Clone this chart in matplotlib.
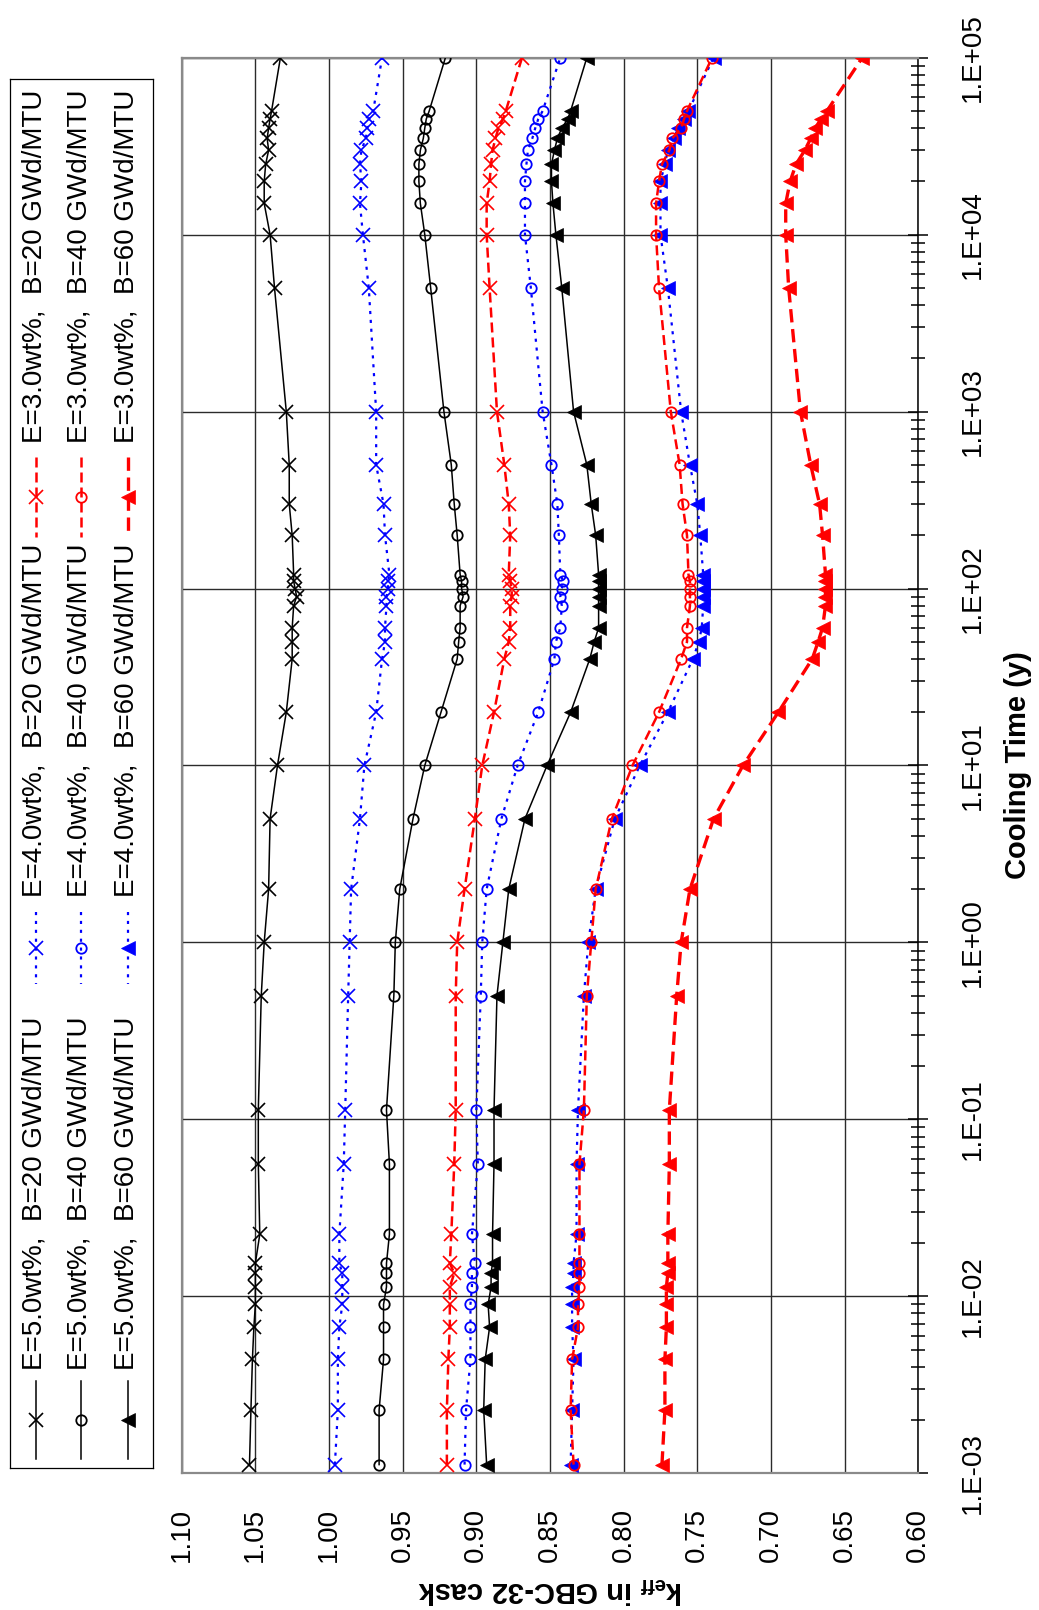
import math
import matplotlib
matplotlib.use("Agg")
import matplotlib.pyplot as plt
from matplotlib.ticker import FixedLocator, FuncFormatter, LogLocator, NullFormatter

plt.rcParams['font.family'] = ['Liberation Sans', 'DejaVu Sans']
plt.rcParams['mathtext.fontset'] = 'custom'
plt.rcParams['mathtext.rm'] = 'Liberation Sans'
plt.rcParams['mathtext.bf'] = 'Liberation Sans:bold'

# ---------------------------------------------------------------- data
cooling_time = [0.00112, 0.00228, 0.0044, 0.0067, 0.009, 0.0113, 0.0135, 0.0154,
                0.0224, 0.056, 0.113, 0.5, 1, 2, 5, 10, 20, 40, 50, 60, 80, 90,
                100, 110, 120, 200, 300, 500, 1000, 5000, 10000, 15000, 20000,
                25000, 30000, 35000, 40000, 45000, 50000, 100000]

keff_e50_b20 = [1.054, 1.053, 1.052, 1.051, 1.050, 1.050, 1.050, 1.050, 1.047, 1.048,
                1.048, 1.046, 1.044, 1.041, 1.040, 1.035, 1.029, 1.025, 1.025, 1.025,
                1.024, 1.022, 1.023, 1.024, 1.024, 1.025, 1.027, 1.027, 1.029, 1.037,
                1.040, 1.044, 1.044, 1.043, 1.041, 1.042, 1.041, 1.040, 1.039, 1.033]
keff_e50_b40 = [0.966, 0.966, 0.963, 0.963, 0.963, 0.961, 0.961, 0.961, 0.959, 0.959,
                0.961, 0.956, 0.955, 0.952, 0.943, 0.935, 0.924, 0.913, 0.912, 0.911,
                0.911, 0.909, 0.910, 0.910, 0.911, 0.913, 0.915, 0.917, 0.922, 0.931,
                0.935, 0.938, 0.939, 0.939, 0.938, 0.936, 0.935, 0.934, 0.932, 0.921]
keff_e50_b60 = [0.893, 0.895, 0.894, 0.891, 0.892, 0.890, 0.890, 0.889, 0.889, 0.888,
                0.888, 0.886, 0.882, 0.878, 0.867, 0.852, 0.836, 0.823, 0.820, 0.817,
                0.817, 0.817, 0.817, 0.817, 0.817, 0.819, 0.822, 0.825, 0.834, 0.842,
                0.846, 0.848, 0.849, 0.849, 0.847, 0.845, 0.842, 0.838, 0.836, 0.825]
keff_e40_b20 = [0.996, 0.994, 0.994, 0.993, 0.991, 0.991, 0.991, 0.993, 0.993, 0.990,
                0.989, 0.987, 0.986, 0.985, 0.979, 0.976, 0.968, 0.964, 0.962, 0.962,
                0.961, 0.961, 0.960, 0.960, 0.959, 0.962, 0.963, 0.968, 0.968, 0.973,
                0.977, 0.979, 0.978, 0.979, 0.978, 0.975, 0.974, 0.973, 0.970, 0.964]
keff_e40_b40 = [0.908, 0.907, 0.904, 0.904, 0.904, 0.903, 0.903, 0.901, 0.903, 0.899,
                0.900, 0.897, 0.896, 0.893, 0.883, 0.872, 0.858, 0.847, 0.846, 0.843,
                0.842, 0.843, 0.842, 0.841, 0.843, 0.844, 0.845, 0.849, 0.855, 0.863,
                0.867, 0.867, 0.867, 0.866, 0.865, 0.862, 0.860, 0.858, 0.855, 0.843]
keff_e40_b60 = [0.836, 0.835, 0.834, 0.835, 0.835, 0.835, 0.834, 0.834, 0.832, 0.832,
                0.831, 0.827, 0.824, 0.819, 0.806, 0.789, 0.770, 0.753, 0.749, 0.747,
                0.746, 0.746, 0.746, 0.746, 0.746, 0.748, 0.750, 0.755, 0.761, 0.770,
                0.775, 0.775, 0.775, 0.772, 0.770, 0.766, 0.763, 0.759, 0.756, 0.739]
keff_e30_b20 = [0.920, 0.920, 0.919, 0.918, 0.918, 0.918, 0.915, 0.918, 0.917, 0.915,
                0.914, 0.914, 0.913, 0.908, 0.901, 0.896, 0.888, 0.881, 0.878, 0.877,
                0.877, 0.876, 0.876, 0.877, 0.878, 0.877, 0.878, 0.881, 0.886, 0.891,
                0.893, 0.893, 0.891, 0.890, 0.889, 0.887, 0.885, 0.882, 0.880, 0.869]
keff_e30_b40 = [0.834, 0.836, 0.835, 0.831, 0.831, 0.830, 0.830, 0.830, 0.830, 0.830,
                0.827, 0.825, 0.822, 0.819, 0.808, 0.794, 0.776, 0.761, 0.757, 0.757,
                0.755, 0.755, 0.755, 0.755, 0.756, 0.757, 0.760, 0.762, 0.768, 0.776,
                0.778, 0.778, 0.776, 0.774, 0.769, 0.767, 0.761, 0.759, 0.757, 0.740]
keff_e30_b60 = [0.774, 0.772, 0.772, 0.771, 0.771, 0.771, 0.770, 0.770, 0.770, 0.769,
                0.769, 0.764, 0.761, 0.755, 0.739, 0.719, 0.695, 0.672, 0.668, 0.665,
                0.663, 0.663, 0.663, 0.663, 0.663, 0.665, 0.667, 0.673, 0.680, 0.688,
                0.690, 0.690, 0.687, 0.683, 0.677, 0.673, 0.670, 0.666, 0.662, 0.638]

series_labels = ["E=5.0wt%,  B=20 GWd/MTU", "E=5.0wt%,  B=40 GWd/MTU", "E=5.0wt%,  B=60 GWd/MTU",
                 "E=4.0wt%,  B=20 GWd/MTU", "E=4.0wt%,  B=40 GWd/MTU", "E=4.0wt%,  B=60 GWd/MTU",
                 "E=3.0wt%,  B=20 GWd/MTU", "E=3.0wt%,  B=40 GWd/MTU", "E=3.0wt%,  B=60 GWd/MTU"]
series_values = [keff_e50_b20, keff_e50_b40, keff_e50_b60,
                 keff_e40_b20, keff_e40_b40, keff_e40_b60,
                 keff_e30_b20, keff_e30_b40, keff_e30_b60]

keff_ticks = [1.10, 1.05, 1.00, 0.95, 0.90, 0.85, 0.80, 0.75, 0.70, 0.65, 0.60]
time_decades = [1e-3, 1e-2, 1e-1, 1e0, 1e1, 1e2, 1e3, 1e4, 1e5]

# ---------------------------------------------------------------- styles
BLUE = '#0000FF'
RED = '#FF0000'
line_styles = {
    5.0: dict(color='black', linestyle='-', linewidth=1.1),
    4.0: dict(color=BLUE, linestyle=(0, (1.4, 2.6)), linewidth=1.6),
    3.0: dict(color=RED, linestyle=(0, (4.0, 2.0)), linewidth=1.8),
}
marker_styles = {
    20: dict(marker='x', markersize=10, markeredgewidth=1.2),
    40: dict(marker='o', markersize=7.5, markeredgewidth=1.3, markerfacecolor='none'),
    60: dict(marker='<', markersize=9.5, markeredgewidth=0.5),
}
series_keys = [(5.0, 20), (5.0, 40), (5.0, 60), (4.0, 20), (4.0, 40), (4.0, 60),
               (3.0, 20), (3.0, 40), (3.0, 60)]


def style_for(enr, burn):
    st = dict(line_styles[enr])
    st.update(marker_styles[burn])
    st['markeredgecolor'] = st['color']
    if burn == 60:
        st['markerfacecolor'] = st['color']
    if enr == 3.0 and burn == 60:
        st['linewidth'] = 2.4
    return st


def decade_label(v, pos):
    return "1.E{:+03d}".format(int(round(math.log10(v))))


# ---------------------------------------------------------------- figure
W, H = 1039, 1610
fig = plt.figure(figsize=(W / 100, H / 100), dpi=100)
ax = fig.add_axes([181.7 / W, 1 - 1473.3 / H, 736.6 / W, 1415.6 / H])

for (enr, burn), vals in zip(series_keys, series_values):
    ax.plot(vals, cooling_time, **style_for(enr, burn), zorder=3)

ax.set_yscale('log')
ax.set_ylim(1e-3, 1e5)
ax.set_xlim(1.10, 0.60)

# keff axis (bottom)
ax.xaxis.set_major_locator(FixedLocator(keff_ticks))
ax.xaxis.set_major_formatter(FuncFormatter(lambda v, p: f"{v:.2f}"))
ax.tick_params(axis='x', which='major', length=0, pad=25, labelsize=20,
               labelrotation=90)

# cooling time axis (right)
ax.yaxis.tick_right()
ax.yaxis.set_major_locator(FixedLocator(time_decades))
ax.yaxis.set_minor_locator(LogLocator(base=10, subs=range(2, 10), numticks=20))
ax.yaxis.set_minor_formatter(NullFormatter())
ax.yaxis.set_major_formatter(FuncFormatter(decade_label))
ax.tick_params(axis='y', which='major', direction='inout', length=14, width=1.1,
               pad=23, labelsize=20, labelrotation=90, colors='black')
ax.tick_params(axis='y', which='minor', direction='inout', length=10, width=1.1,
               colors='black')
for lbl in ax.get_yticklabels():
    lbl.set_verticalalignment('center')

ax.grid(True, which='major', axis='both', color='#2b2b2b', linewidth=1.0, zorder=1)
ax.set_axisbelow(True)

for side in ('left', 'top', 'bottom'):
    ax.spines[side].set_color('#8a8a8a')
    ax.spines[side].set_linewidth(1.6)
ax.spines['right'].set_color('black')
ax.spines['right'].set_linewidth(1.1)

ax.set_xlabel(r"$\mathbf{k_{eff}}$ in GBC-32 cask", fontsize=21, fontweight='bold',
              rotation=180, ha='center', va='center')
ax.xaxis.set_label_coords(0.5, -0.0825)
ax.yaxis.set_label_position('right')
ax.set_ylabel("Cooling Time (y)", fontsize=21, fontweight='bold', rotation=90,
              ha='center', va='center')
ax.yaxis.set_label_coords(1.1354, 0.5)

# ---------------------------------------------------------------- legend box
lx0, ly0, lx1, ly1 = 10, 79, 153, 1468
lax = fig.add_axes([lx0 / W, 1 - ly1 / H, (lx1 - lx0) / W, (ly1 - ly0) / H])
lax.set_xlim(0, lx1 - lx0)
lax.set_ylim(ly1 - ly0, 0)
lax.set_xticks([])
lax.set_yticks([])
for sp in lax.spines.values():
    sp.set_color('black')
    sp.set_linewidth(0.9)

col_x = {20: 26, 40: 71, 60: 117.5}
row_y = {5.0: (1341, 39, 1291), 4.0: (869, 36, 818), 3.0: (418, 40, 364)}
for (enr, burn), label in zip(series_keys, series_labels):
    st = style_for(enr, burn)
    x = col_x[burn]
    ym, half, ytxt = row_y[enr]
    line_only = {k: v for k, v in st.items() if not k.startswith('marker')}
    lax.plot([x, x], [ym - half, ym + half], **line_only)
    mk = {k: v for k, v in st.items() if k.startswith('marker')}
    lax.plot([x], [ym], linestyle='none', **mk)
    lax.text(x - 1, ytxt, label, rotation=90, ha='center', va='bottom', fontsize=20)

fig.savefig("out.png", dpi=100)
